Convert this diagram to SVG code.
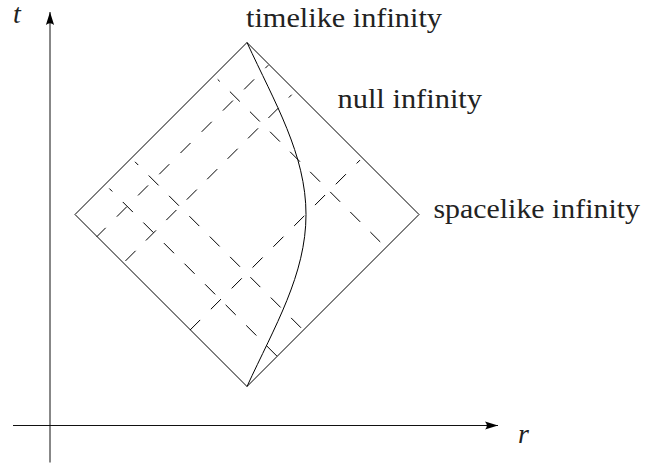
<svg xmlns="http://www.w3.org/2000/svg" width="647" height="466" viewBox="0 0 647 466">
  <style>
    .edge { fill: none; stroke: #000; stroke-width: 1; }
    .axis { fill: none; stroke: #111; stroke-width: 1; }
    .null { fill: none; stroke: #000; stroke-width: 1; stroke-linecap: butt; }
    .label { font-family: "Liberation Serif", "DejaVu Serif", "Noto Serif", serif; font-size: 28px; fill: #222; }
    .var { font-family: "Liberation Serif", "DejaVu Serif", "Noto Serif", serif; font-size: 28px; font-style: italic; fill: #222; }
  </style>
  <defs>
    <marker id="arrow" markerUnits="userSpaceOnUse" markerWidth="14" markerHeight="10" refX="13" refY="5" orient="auto">
      <path d="M13,5 L0,0.9 Q3.5,5 0,9.1 Z" fill="#000"/>
    </marker>
  </defs>

  <g id="axes">
    <line class="axis" x1="50" y1="462.5" x2="50" y2="12" marker-end="url(#arrow)"/>
    <line class="axis" x1="13" y1="425.5" x2="498" y2="425.5" marker-end="url(#arrow)"/>
    <text class="var" x="13" y="22.5">t</text>
    <text class="var" x="518" y="443">r</text>
  </g>

  <g id="diamond">
    <path class="edge" d="M247,42.5 L419,214.5 L247,386.5 L75,214.5 Z"/>
  </g>

  <g id="worldline">
    <path class="edge" d="M247,42.5 C274.6,102.5 306,154.5 306,214.5 C306,274.5 274.6,326.5 247,386.5"/>
  </g>

  <g id="null-lines">
    <line class="null" x1="217.7" y1="79.4" x2="385.8" y2="247.5" stroke-dasharray="14 14.37" stroke-dashoffset="11.12"/>
    <line class="null" x1="135" y1="161.8" x2="303.25" y2="330.05" stroke-dasharray="14 14.77" stroke-dashoffset="9.4"/>
    <line class="null" x1="109.3" y1="188.5" x2="277.05" y2="356.25" stroke-dasharray="14.3 14.8" stroke-dashoffset="10.07"/>
    <line class="null" x1="96.75" y1="236.75" x2="268.3" y2="65.2" stroke-dasharray="14.2 15.8" stroke-dashoffset="1.6"/>
    <line class="null" x1="123.2" y1="263.2" x2="291.7" y2="94.7" stroke-dasharray="14.3 14.58" stroke-dashoffset="25.66"/>
    <line class="null" x1="190.05" y1="330.05" x2="360" y2="160.1" stroke-dasharray="14.3 15.15" stroke-dashoffset="0"/>
  </g>

  <g id="labels">
    <text class="label" x="246" y="26.7" textLength="196" lengthAdjust="spacingAndGlyphs">timelike infinity</text>
    <text class="label" x="337.5" y="108.3" textLength="144.5" lengthAdjust="spacingAndGlyphs">null infinity</text>
    <text class="label" x="433.5" y="218.3" textLength="206.5" lengthAdjust="spacingAndGlyphs">spacelike infinity</text>
  </g>
</svg>
